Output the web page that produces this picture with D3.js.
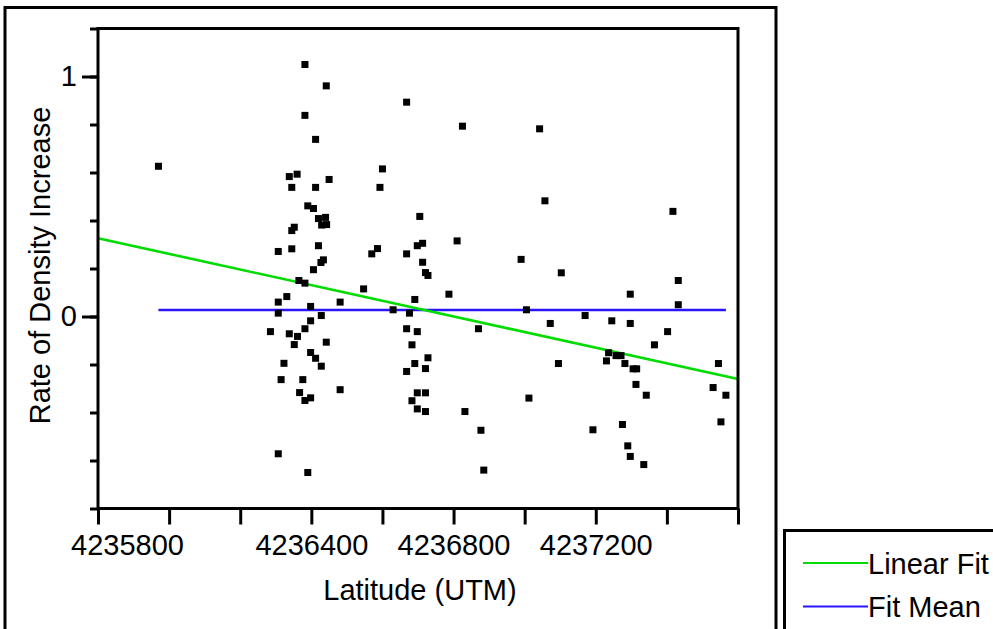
<!DOCTYPE html>
<html>
<head>
<meta charset="utf-8">
<script src="https://cdn.jsdelivr.net/npm/d3@7"></script>
<style>
  html, body { margin: 0; padding: 0; background: #fff; }
  svg { display: block; font-family: "Liberation Sans", Arial, sans-serif; }
</style>
</head>
<body>
<svg id="chart" width="993" height="629"></svg>
<script>
// Latitude (UTM northing) of each site and its rate of density increase
const latitude = [
  4235970,
  4236382, 4236442, 4236382, 4236412, 4236338, 4236360, 4236450, 4236345, 4236412, 4236390,
  4236406, 4236420, 4236440, 4236429, 4236443, 4236345, 4236352, 4236307, 4236345, 4236420,
  4236434, 4236427, 4236406, 4236365, 4236382, 4236331, 4236307, 4236481, 4236398, 4236307,
  4236428, 4236398, 4236285, 4236382, 4236338, 4236361, 4236352, 4236442, 4236398, 4236412,
  4236428, 4236323, 4236315, 4236376, 4236481, 4236367, 4236382, 4236398, 4236307, 4236390,
  4236668, 4236600, 4236593, 4236705, 4236586, 4236570, 4236668, 4236713, 4236698, 4236713,
  4236721, 4236728, 4236547, 4236691, 4236630, 4236676, 4236668, 4236698, 4236683, 4236728,
  4236691, 4236668, 4236721, 4236698, 4236721, 4236683, 4236698, 4236721,
  4236825, 4237042, 4237057, 4236810, 4236990, 4237103, 4236787, 4237005, 4237170, 4237072,
  4236870, 4237095, 4237012, 4236832, 4236877, 4236885, 4237192,
  4237417, 4237432, 4237297, 4237432, 4237245, 4237297, 4237402, 4237365, 4237236, 4237257,
  4237271, 4237230, 4237282, 4237305, 4237315, 4237313, 4237342, 4237545, 4237530, 4237566,
  4237552, 4237275, 4237290, 4237297, 4237335
];
const rate = [
  0.626,
  1.05, 0.961, 0.838, 0.738, 0.583, 0.593, 0.571, 0.538, 0.538, 0.461,
  0.45, 0.408, 0.413, 0.381, 0.383, 0.358, 0.372, 0.271, 0.282, 0.295,
  0.236, 0.225, 0.195, 0.15, 0.139, 0.083, 0.06, 0.06, 0.042, 0.014,
  0.004, -0.018, -0.063, -0.051, -0.072, -0.083, -0.117, -0.107, -0.15, -0.174,
  -0.207, -0.195, -0.263, -0.263, -0.305, -0.317, -0.35, -0.339, -0.572, -0.65,
  0.893, 0.615, 0.538, 0.417, 0.283, 0.261, 0.261, 0.305, 0.295, 0.226,
  0.183, 0.171, 0.115, 0.071, 0.028, 0.014, -0.051, -0.063, -0.118, -0.172,
  -0.196, -0.229, -0.217, -0.318, -0.318, -0.351, -0.385, -0.396,
  0.793, 0.782, 0.482, 0.315, 0.238, 0.182, 0.093, 0.028, 0.004, -0.029,
  -0.051, -0.196, -0.340, -0.396, -0.474, -0.640, -0.472,
  0.438, 0.15, 0.093, 0.049, -0.018, -0.029, -0.063, -0.118, -0.151, -0.163,
  -0.163, -0.185, -0.196, -0.218, -0.218, -0.283, -0.328, -0.196, -0.296, -0.328,
  -0.439, -0.45, -0.539, -0.583, -0.617
];

// Fitted models: straight line through the data, and the overall mean
const linearFitEnds = [[4235800, 0.326], [4237600, -0.26]];
const fitMean = 0.027;

// Axis ticks and labels
const xDomain = [4235800, 4237600];
const xTicks = d3.range(4235800, 4237601, 200);
const xLabelled = [4235800, 4236400, 4236800, 4237200];
const yDomain = [-0.8, 1.2];
const yMinorTicks = [-0.8, -0.6, -0.4, -0.2, 0, 0.2, 0.4, 0.6, 0.8, 1, 1.2];
const yMajorTicks = [0, 1];

const legendItems = [
  { name: "Linear Fit", color: "#00dc00" },
  { name: "Fit Mean", color: "#2a14ff" }
];

const svg = d3.select("#chart");
const W = 993, H = 629;
const plot = { left: 98, right: 738, top: 28.5, bottom: 508.5 };
const FONT = 29;

svg.append("rect").attr("width", W).attr("height", H).attr("fill", "#fff");

const x = d3.scaleLinear().domain(xDomain).range([plot.left, plot.right]);
const y = d3.scaleLinear().domain(yDomain).range([plot.bottom, plot.top]);

// Outer panel frame (runs off the bottom edge)
svg.append("path")
  .attr("d", `M5,${H + 10}V7.5H776V${H + 10}`)
  .attr("fill", "none").attr("stroke", "#000").attr("stroke-width", 3);

// Fit Mean line spans the range of the data
const xExtent = d3.extent(latitude);
svg.append("line")
  .attr("x1", x(xExtent[0])).attr("x2", x(xExtent[1]))
  .attr("y1", y(fitMean)).attr("y2", y(fitMean))
  .attr("stroke", legendItems[1].color).attr("stroke-width", 2.6);

// Linear Fit across the full axis
svg.append("line")
  .attr("x1", x(linearFitEnds[0][0])).attr("y1", y(linearFitEnds[0][1]))
  .attr("x2", x(linearFitEnds[1][0])).attr("y2", y(linearFitEnds[1][1]))
  .attr("stroke", legendItems[0].color).attr("stroke-width", 2.6);

// Points
const S = 7;
svg.append("g").selectAll("rect")
  .data(d3.zip(latitude, rate))
  .join("rect")
  .attr("x", d => x(d[0]) - S / 2)
  .attr("y", d => y(d[1]) - S / 2)
  .attr("width", S).attr("height", S)
  .attr("fill", "#000");

// Plot frame
svg.append("rect")
  .attr("x", plot.left).attr("y", plot.top)
  .attr("width", plot.right - plot.left).attr("height", plot.bottom - plot.top)
  .attr("fill", "none").attr("stroke", "#000").attr("stroke-width", 3);

// X axis
const xAxis = d3.axisBottom(x)
  .tickValues(xTicks)
  .tickSize(16).tickSizeOuter(0)
  .tickFormat(d => xLabelled.includes(d) ? d3.format("d")(d) : "");
const gx = svg.append("g").attr("transform", `translate(0,${plot.bottom})`).call(xAxis);
gx.select(".domain").remove();
gx.selectAll(".tick line").attr("stroke", "#000").attr("stroke-width", 3);
gx.selectAll(".tick text")
  .attr("fill", "#000")
  .attr("font-size", FONT)
  .attr("font-family", "Liberation Sans, Arial, sans-serif")
  .attr("y", 46.5).attr("dy", null)
  .attr("dx", d => d === xDomain[0] ? 29 : 0);

// Y axis: short minor ticks, long labelled major ticks
const gyMinor = svg.append("g").attr("transform", `translate(${plot.left},0)`)
  .call(d3.axisLeft(y).tickValues(yMinorTicks).tickSize(8).tickSizeOuter(0).tickFormat(""));
gyMinor.select(".domain").remove();
gyMinor.selectAll(".tick line").attr("stroke", "#000").attr("stroke-width", 3);

const gyMajor = svg.append("g").attr("transform", `translate(${plot.left},0)`)
  .call(d3.axisLeft(y).tickValues(yMajorTicks).tickSize(16).tickSizeOuter(0).tickPadding(5).tickFormat(d3.format("d")));
gyMajor.select(".domain").remove();
gyMajor.selectAll(".tick line").attr("stroke", "#000").attr("stroke-width", 3);
gyMajor.selectAll(".tick text")
  .attr("fill", "#000")
  .attr("font-size", FONT)
  .attr("font-family", "Liberation Sans, Arial, sans-serif");

// Axis titles
svg.append("text")
  .attr("x", (plot.left + plot.right) / 2 + 2).attr("y", 600)
  .attr("text-anchor", "middle").attr("font-size", FONT).attr("fill", "#000")
  .text("Latitude (UTM)");

svg.append("text")
  .attr("transform", "translate(50,265.5) rotate(-90)")
  .attr("text-anchor", "middle").attr("font-size", FONT).attr("fill", "#000")
  .text("Rate of Density Increase");

// Legend
svg.append("path")
  .attr("d", `M784.5,${H + 10}V530.5H${W + 10}`)
  .attr("fill", "none").attr("stroke", "#000").attr("stroke-width", 3);

const legend = svg.append("g");
legendItems.forEach((item, i) => {
  const cy = 563 + i * 43.5;
  legend.append("line")
    .attr("x1", 803).attr("x2", 868).attr("y1", cy).attr("y2", cy)
    .attr("stroke", item.color).attr("stroke-width", 2.2);
  legend.append("text")
    .attr("x", 868).attr("y", cy + 10.5)
    .attr("font-size", FONT).attr("fill", "#000")
    .text(item.name);
});
</script>
</body>
</html>
